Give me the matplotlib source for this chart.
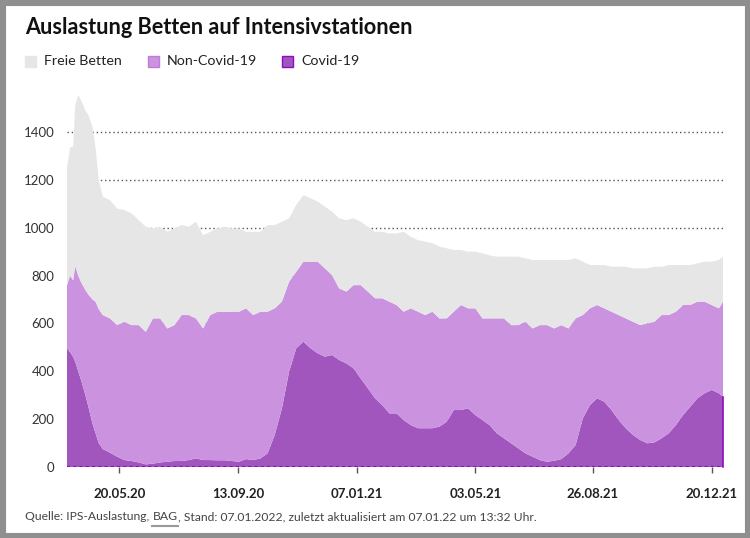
import matplotlib
matplotlib.use("Agg")
import matplotlib.pyplot as plt
from matplotlib.patches import Rectangle
from matplotlib.lines import Line2D
import numpy as np
import pandas as pd

plt.rcParams['font.family'] = ['Lato', 'DejaVu Sans']

# ---- data (readings, beds) ----
start_date = "2020-03-30"
day_offsets = [0, 3, 6, 8, 11, 14, 18, 21, 25, 28, 31, 35] + [7 * k for k in range(6, 92)] + [641]

covid = [496, 480, 460, 440, 400, 360, 300, 250, 180, 140, 100, 75,
         60, 43, 29, 25, 19, 11, 14, 19, 22, 25, 25, 29, 36, 29,
         29, 28, 28, 25, 22, 33, 29, 36, 57, 134, 245, 398, 496, 524, 496, 475, 461, 468, 447, 433,
         412, 370, 329, 287, 259, 224, 224, 196, 175, 162, 162, 162, 169, 189, 238, 238, 245, 217, 196, 175,
         141, 120, 99, 78, 57, 43, 29, 22, 26, 33, 57, 92, 203, 259, 287, 273, 238, 196, 162, 134,
         113, 99, 103, 120, 141, 175, 217, 252, 287, 308, 322, 308, 294]

occupied_total = [760, 800, 780, 840, 800, 770, 740, 720, 700, 690, 660, 635,
                  621, 593, 607, 593, 593, 565, 621, 621, 579, 593, 635, 635, 621, 579,
                  635, 649, 649, 649, 649, 663, 635, 649, 649, 663, 691, 774, 816, 858, 858, 858, 830, 802, 746, 733,
                  760, 760, 733, 705, 705, 691, 677, 649, 663, 649, 635, 649, 621, 621, 649, 677, 663, 663, 621, 621,
                  621, 621, 593, 593, 607, 579, 593, 593, 579, 593, 579, 621, 635, 663, 677, 663, 649, 635, 621, 607,
                  593, 600, 607, 635, 635, 649, 677, 677, 691, 691, 677, 663, 691]

capacity_total = [1250, 1335, 1340, 1510, 1555, 1530, 1490, 1470, 1420, 1330, 1200, 1130,
                  1115, 1080, 1074, 1060, 1032, 1004, 997, 1004, 983, 997, 1011, 1004, 1025, 969,
                  983, 997, 1004, 997, 997, 983, 983, 983, 1011, 1011, 1025, 1039, 1095, 1136, 1123, 1109, 1088, 1067, 1039, 1032,
                  1039, 1025, 1004, 983, 983, 976, 976, 983, 962, 948, 942, 935, 921, 914, 907, 907, 900, 900, 893, 884,
                  879, 879, 879, 879, 872, 865, 865, 865, 865, 865, 865, 872, 858, 844, 844, 844, 837, 837, 837, 830,
                  830, 830, 837, 837, 844, 844, 844, 844, 851, 858, 858, 865, 879]

y_ticks = [0, 200, 400, 600, 800, 1000, 1200, 1400]
x_tick_dates = ["2020-05-20", "2020-09-13", "2021-01-07", "2021-05-03", "2021-08-26", "2021-12-20"]
x_tick_labels = ["20.05.20", "13.09.20", "07.01.21", "03.05.21", "26.08.21", "20.12.21"]
legend_labels = ["Freie Betten", "Non-Covid-19", "Covid-19"]

title = "Auslastung Betten auf Intensivstationen"
source_pre = "Quelle: IPS-Auslastung, "
source_link = "BAG"
source_post = ", Stand: 07.01.2022, zuletzt aktualisiert am 07.01.22 um 13:32 Uhr."

# ---- colours ----
c_free = "#e6e6e6"
c_non = "#cb92e0"
c_cov = "#a056bd"
c_cov_edge = "#8e0cc0"

dates = pd.to_datetime(start_date) + pd.to_timedelta(day_offsets, unit="D")
covid = np.array(covid, float)
non_covid = np.array(occupied_total, float) - covid
free = np.array(capacity_total, float) - np.array(occupied_total, float)

W, H = 750, 538
fig = plt.figure(figsize=(W / 100, H / 100), dpi=100)
fig.patch.set_facecolor("white")

ymax = 1600
px_per_unit = 335 / 1400
ax_h = ymax * px_per_unit
ax = fig.add_axes([67 / W, 71 / H, (723 - 67) / W, ax_h / H])
ax.set_facecolor("none")

ax.stackplot(dates, covid, non_covid, free, colors=[c_cov, c_non, c_free], linewidth=0, zorder=2)
ax.set_xlim(dates[0], dates[-1])
ax.set_ylim(0, ymax)

# gridlines (behind areas)
for v in y_ticks[1:]:
    ax.axhline(v, color="#555555", linestyle=(0, (1, 2)), linewidth=1.0, zorder=1)
# covid edge on right and baseline
ax.plot([dates[-1], dates[-1]], [0, covid[-1]], color=c_cov_edge, linewidth=1.2, zorder=3, clip_on=False)
ax.axhline(0, color=c_cov_edge, linestyle=(0, (1.5, 1.5)), linewidth=1.5, zorder=3)

for s in ax.spines.values():
    s.set_visible(False)

ax.set_yticks(y_ticks)
ax.set_yticklabels([str(v) for v in y_ticks], fontsize=9.5, color="#333333")
ax.tick_params(axis="y", length=0, pad=9)

ax.set_xticks(pd.to_datetime(x_tick_dates))
ax.set_xticklabels(x_tick_labels, fontsize=9.5, fontweight="bold", color="#222222")
ax.tick_params(axis="x", length=4, width=1, color="#555555", pad=11)

# title
fig.text(25 / W, 1 - 28 / H, title, fontsize=15.6, fontweight="bold", color="#111111",
         ha="left", va="center")

# legend
leg_items = [(25, c_free, c_free, legend_labels[0]),
             (148, c_non, "#c07ad8", legend_labels[1]),
             (282, c_cov, c_cov_edge, legend_labels[2])]
for x0, fc, ec, lab in leg_items:
    fig.patches.append(Rectangle((x0 / W, 1 - 67 / H), 11 / W, 11 / H, transform=fig.transFigure,
                                 facecolor=fc, edgecolor=ec, linewidth=1))
    fig.text((x0 + 19) / W, 1 - 61 / H, lab, fontsize=10.3, color="#222222", ha="left", va="center")

# source line
ty = 1 - 517 / H
fs = 8.7
t1 = fig.text(25 / W, ty, source_pre, fontsize=fs, color="#444444", ha="left", va="center")
fig.canvas.draw()
r = fig.canvas.get_renderer()
bb1 = t1.get_window_extent(r)
t2 = fig.text(bb1.x1 / W, ty, source_link, fontsize=fs, color="#444444", ha="left", va="center")
bb2 = t2.get_window_extent(r)
fig.lines.append(Line2D([bb2.x0 / W, bb2.x1 / W], [(bb2.y0 - 3) / H, (bb2.y0 - 3) / H],
                        transform=fig.transFigure, color="#999999", linewidth=1.5))
fig.text(bb2.x1 / W, ty, source_post, fontsize=fs, color="#444444", ha="left", va="center")

# border
fig.patches.append(Rectangle((0, 0), 1, 1, transform=fig.transFigure, fill=False,
                             edgecolor="#8f8f8f", linewidth=8))

fig.savefig("out.png", dpi=100)
